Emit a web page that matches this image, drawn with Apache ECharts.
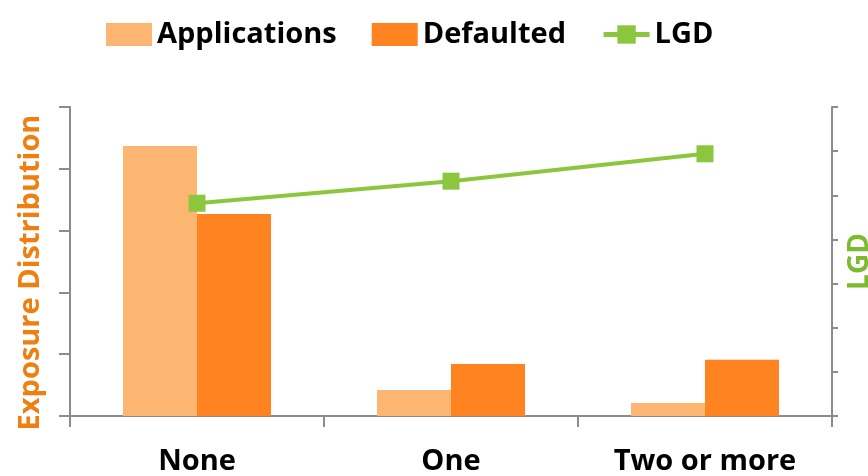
<!DOCTYPE html>
<html>
<head>
<meta charset="utf-8">
<script src="https://cdn.jsdelivr.net/npm/echarts@6/dist/echarts.min.js"></script>
<style>
  html, body { margin: 0; padding: 0; background: #ffffff; }
  #chart { width: 868px; height: 476px; }
</style>
</head>
<body>
<div id="chart"></div>
<script>
// Categories: number of prior delinquencies
const categories = ['None', 'One', 'Two or more'];
// Exposure distribution (left axis)
const applications = [43.7, 4.2, 2.1];
const defaulted = [32.7, 8.4, 9.1];
// Loss given default (right axis)
const lgd = [48.2, 53.2, 59.4];

const axisGray = '#8c8c8c';
const labelFont = '"Open Sans", sans-serif';

const chart = echarts.init(document.getElementById('chart'));
chart.setOption({
  animation: false,
  backgroundColor: '#ffffff',
  legend: {
    top: 15,
    left: 101,
    itemWidth: 46,
    itemHeight: 23,
    itemGap: 35,
    textStyle: { fontFamily: labelFont, fontWeight: 'bold', fontSize: 29, color: '#000000' },
    data: [
      { name: 'Applications', icon: 'rect' },
      { name: 'Defaulted', icon: 'rect' },
      { name: 'LGD', lineStyle: { width: 5 } }
    ]
  },
  grid: { left: 70, right: 36, top: 107, bottom: 60, outerBoundsMode: 'none', containLabel: false },
  xAxis: {
    type: 'category',
    data: categories,
    boundaryGap: true,
    axisLine: { lineStyle: { color: axisGray, width: 2 } },
    axisTick: { show: true, length: 11, lineStyle: { color: axisGray, width: 2 } },
    axisLabel: { margin: 31, fontFamily: labelFont, fontWeight: 'bold', fontSize: 29, color: '#000000' }
  },
  yAxis: [
    {
      type: 'value',
      min: 0, max: 50, interval: 10,
      name: 'Exposure Distribution',
      nameLocation: 'middle',
      nameGap: 25,
      nameTextStyle: {
        fontFamily: labelFont, fontWeight: 'bold', fontSize: 29, color: '#F07F11',
        padding: [0, 22, 0, 0]
      },
      axisLine: { show: true, lineStyle: { color: axisGray, width: 2 } },
      axisTick: { show: true, length: 11, lineStyle: { color: axisGray, width: 2 } },
      axisLabel: { show: false },
      splitLine: { show: false }
    },
    {
      type: 'value',
      min: 0, max: 70, interval: 10,
      name: 'LGD',
      nameLocation: 'middle',
      nameGap: 14,
      nameRotate: 90,
      nameTextStyle: { fontFamily: labelFont, fontWeight: 'bold', fontSize: 28, color: '#7CBA2E' },
      axisLine: { show: true, lineStyle: { color: axisGray, width: 2 } },
      axisTick: { show: true, length: 6, lineStyle: { color: axisGray, width: 2 } },
      axisLabel: { show: false },
      splitLine: { show: false }
    }
  ],
  series: [
    {
      name: 'Applications',
      type: 'bar',
      data: applications,
      barWidth: 74,
      barGap: '0%',
      itemStyle: { color: '#FDB671' }
    },
    {
      name: 'Defaulted',
      type: 'bar',
      data: defaulted,
      barWidth: 74,
      barGap: '0%',
      itemStyle: { color: '#FF8320' }
    },
    {
      name: 'LGD',
      type: 'line',
      yAxisIndex: 1,
      data: lgd,
      symbol: 'rect',
      symbolSize: 17,
      lineStyle: { color: '#8CC63E', width: 4 },
      itemStyle: { color: '#8CC63E' }
    }
  ]
});
</script>
</body>
</html>
